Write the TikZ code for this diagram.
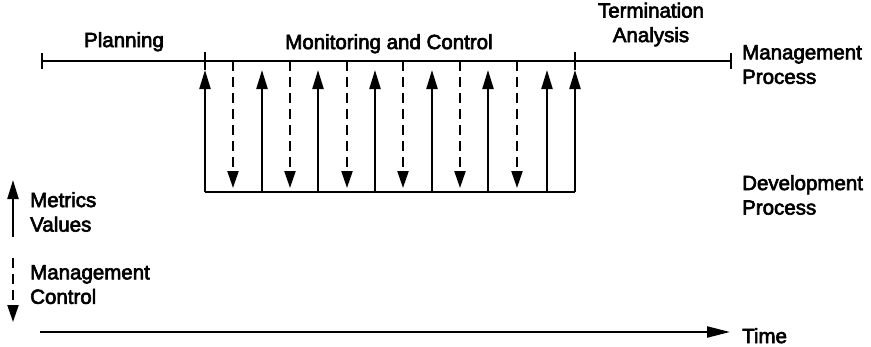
\documentclass[tikz,border=0pt]{standalone}
\usepackage{fontspec}
\setmainfont{Liberation Sans}[FakeBold=3]
\usetikzlibrary{arrows.meta}
\tikzset{
  lbl/.style={inner sep=0pt, font=\fontsize{20.5}{24.5}\selectfont},
  ln/.style={line width=2.2pt},
  metric/.style={line width=2.2pt, -{Triangle[length=19pt,width=11pt]}},
  control/.style={line width=2.2pt, dash pattern=on 10pt off 6pt, -{Triangle[length=17pt,width=11pt]}},
  timearr/.style={line width=2.2pt, -{Triangle[length=23pt,width=11pt]}}
}
\begin{document}
\begin{tikzpicture}[x=1pt,y=-1pt]
\useasboundingbox (0,0) rectangle (871,346);
% texts
\node[lbl, anchor=north] (plan) at (124,32) {Planning};
\node[lbl, anchor=north] (mon) at (389,34) {Monitoring and Control};
\node[lbl, anchor=north, align=center] (term) at (651,2.5) {Termination\\Analysis};
\node[lbl, anchor=north west, align=left] (mp) at (742,45) {Management\\Process};
\node[lbl, anchor=north west, align=left] (dp) at (742,175) {Development\\Process};
\node[lbl, anchor=north west] (time) at (742,328) {Time};
\node[lbl, anchor=north west, align=left] (mv) at (30,192) {Metrics\\Values};
\node[lbl, anchor=north west, align=left] (mc) at (30,265) {Management\\Control};
% management process line
\coordinate (ml) at (42,61);
\coordinate (mr) at (731,61);
\draw[ln] (ml) -- (mr);
\draw[ln] ([yshift=-8pt]ml) -- ([yshift=8pt]ml);
\draw[ln] ([yshift=-8pt]mr) -- ([yshift=8pt]mr);
% metric arrows (solid, up)
\foreach \x [count=\i] in {205,262,318,375,432,488,547,575} {
  \coordinate (sb\i) at (\x,192);
  \coordinate (st\i) at (\x,70);
  \draw[metric] (sb\i) -- (st\i);
}
\coordinate (k1) at (205,52);
\coordinate (k8) at (575,52);
\draw[ln] (st1) -- (k1);
\draw[ln] (st8) -- (k8);
% development process line
\draw[ln] (sb1) -- (sb8);
% management control arrows (dashed, down)
\foreach \x [count=\i] in {233,290,347,403,460,517} {
  \coordinate (dt\i) at (\x,61);
  \coordinate (db\i) at (\x,188);
  \draw[control] (dt\i) -- (db\i);
}
% legend
\coordinate (lm1) at (13,237);
\coordinate (lm2) at (13,180);
\draw[metric] (lm1) -- (lm2);
\coordinate (lc1) at (13,258);
\coordinate (lc2) at (13,322);
\draw[control] (lc1) -- (lc2);
% time axis
\coordinate (t0) at (40,332);
\coordinate (t1) at (730,332);
\draw[timearr] (t0) -- (t1);
\end{tikzpicture}
\end{document}
